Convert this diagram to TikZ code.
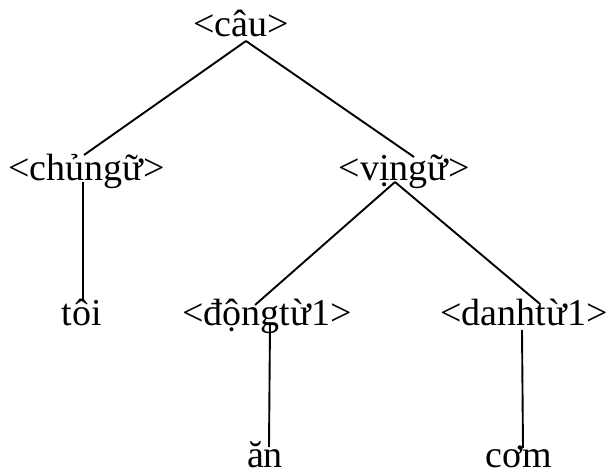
\documentclass[tikz,border=0pt]{standalone}
\usepackage{fontspec}
\setmainfont{Liberation Serif}
\begin{document}
\begin{tikzpicture}[x=1pt,y=-1pt,
  lbl/.style={inner sep=0pt,anchor=base,font=\fontsize{38}{44}\selectfont},
  edge/.style={line width=1.9pt,line cap=butt}]
\useasboundingbox (0,0) rectangle (606,471);
\node[lbl] (cau)  at (241,37)    {<câu>};
\node[lbl] (chu)  at (86.5,180)  {<chủngữ>};
\node[lbl] (vi)   at (404.5,180) {<vịngữ>};
\node[lbl] (toi)  at (82,325)    {tôi};
\node[lbl] (dong) at (267,325)   {<độngtừ1>};
\node[lbl] (danh) at (524,325)   {<danhtừ1>};
\node[lbl] (an)   at (265,467)   {ăn};
\node[lbl] (com)  at (519,467)   {cơm};
\draw[edge] ([shift={(5,4)}]cau.base) -- ([shift={(-2.5,-25)}]chu.base);
\draw[edge] ([shift={(5,4)}]cau.base) -- ([shift={(9.5,-23)}]vi.base);
\draw[edge] ([shift={(-3.5,2)}]chu.base) -- ([shift={(1,-25)}]toi.base);
\draw[edge] ([shift={(-9.5,2)}]vi.base) -- ([shift={(-12,-20)}]dong.base);
\draw[edge] ([shift={(-9.5,2)}]vi.base) -- ([shift={(16,-21)}]danh.base);
\draw[edge] ([shift={(3,0)}]dong.base) -- ([shift={(4,-20)}]an.base);
\draw[edge] ([shift={(-2,5)}]danh.base) -- ([shift={(4,-19)}]com.base);
\end{tikzpicture}
\end{document}
